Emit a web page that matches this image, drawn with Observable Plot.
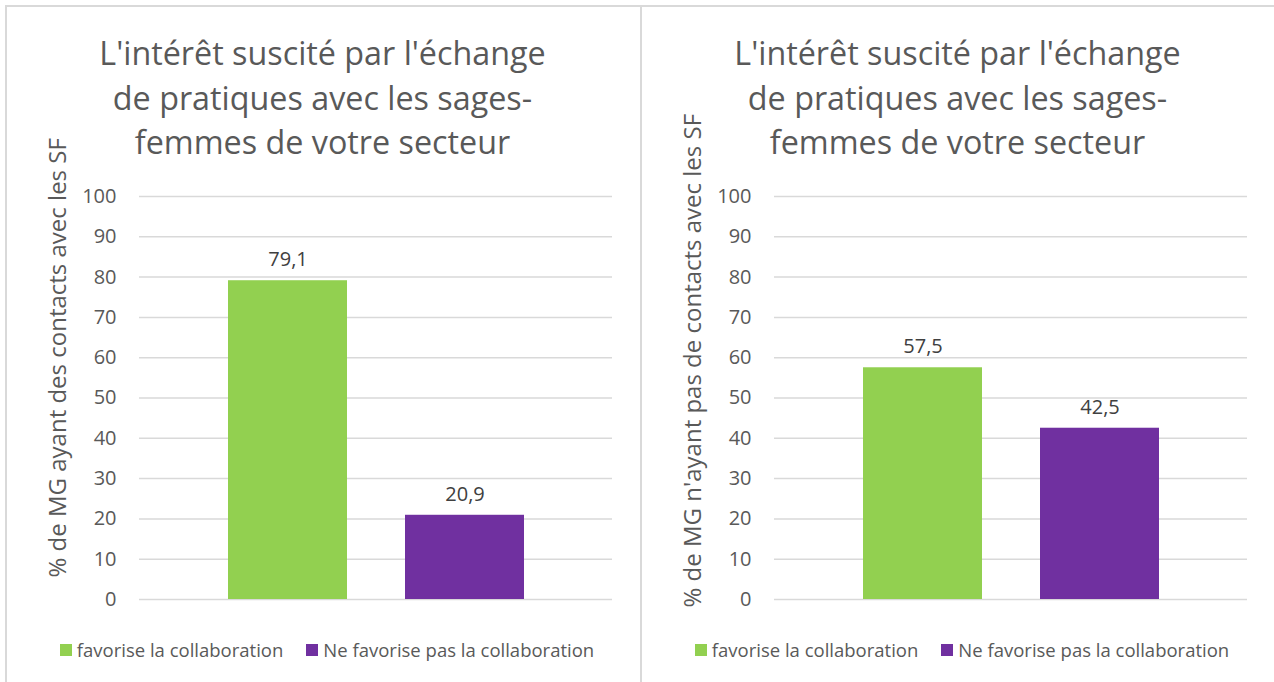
<!DOCTYPE html>
<html><head><meta charset="utf-8">
<script src="https://cdn.jsdelivr.net/npm/d3@7"></script>
<script src="https://cdn.jsdelivr.net/npm/@observablehq/plot@0.6"></script>
<style>
body{margin:0;background:#fff;font-family:"Open Sans",sans-serif;width:1274px;height:682px;overflow:hidden;position:relative}
.hline{position:absolute;left:5px;top:5px;width:1269px;height:2px;background:#d9d9d9}
.vline{position:absolute;top:5px;width:2px;height:677px;background:#d9d9d9}
.panel{position:absolute;top:0;width:645px;height:682px}
.title{position:absolute;left:0;width:645px;top:30px;text-align:center;font-size:32.3px;line-height:44.5px;color:#595959;white-space:nowrap}
.chart{position:absolute;left:5px;top:166px}
.legend{position:absolute;left:0;width:654px;top:638px;display:flex;justify-content:center;gap:23px;font-size:18.5px;line-height:24px;color:#595959;white-space:nowrap}
.item{display:flex;align-items:center}
.sw{width:12px;height:12px;margin-right:5px}
</style>
</head><body>
<div class="hline"></div>
<div class="vline" style="left:5px"></div>
<div class="vline" style="left:640px"></div>
<script>
// ---- data ----
const titleLines = ["L'intérêt suscité par l'échange", "de pratiques avec les sages-", "femmes de votre secteur"];
const series = ["favorise la collaboration", "Ne favorise pas la collaboration"];
const seriesColors = ["#92d050", "#7030a0"];
const valuesAvecContacts = [79.1, 20.9];
const valuesSansContacts = [57.5, 42.5];
const yLabelAvec = "% de MG ayant des contacts avec les SF";
const yLabelSans = "% de MG n'ayant pas de contacts avec les SF";
const yTicks = [0, 10, 20, 30, 40, 50, 60, 70, 80, 90, 100];

const fmt = v => d3.format(".1f")(v).replace(".", ",");

function makePanel(left, values, yLabel, labelDy) {
  const panel = document.createElement("div");
  panel.className = "panel";
  panel.style.left = left + "px";

  const title = document.createElement("div");
  title.className = "title";
  titleLines.forEach((t, i) => {
    if (i) title.appendChild(document.createElement("br"));
    title.appendChild(document.createTextNode(t));
  });
  panel.appendChild(title);

  const data = series.map((s, i) => ({series: s, value: values[i]}));

  const chart = Plot.plot({
    width: 635,
    height: 448,
    marginTop: 30,
    marginBottom: 15,
    marginLeft: 134,
    marginRight: 28,
    style: {fontFamily: "Open Sans", fontSize: "20px", color: "#595959", background: "transparent", overflow: "visible"},
    x: {type: "band", domain: series, paddingInner: 0.328, paddingOuter: 0.5, axis: null},
    y: {domain: [0, 100], axis: null},
    color: {domain: series, range: seriesColors},
    marks: [
      Plot.ruleY(yTicks, {stroke: "#d9d9d9", strokeWidth: 1.5}),
      Plot.axisY({ticks: yTicks, tickSize: 0, tickPadding: 23, label: null, fontSize: 20, fill: "#595959"}),
      Plot.barY(data, {x: "series", y: "value", fill: "series"}),
      Plot.text(data, {x: "series", y: "value", text: d => fmt(d.value), dy: -21, lineAnchor: "middle", fill: "#404040", fontSize: 20}),
      Plot.text([yLabel], {frameAnchor: "left", text: d => d, rotate: -90, textAnchor: "start", lineAnchor: "middle", dx: -81, dy: labelDy, fontSize: 24, fill: "#595959"})
    ]
  });
  const wrap = document.createElement("div");
  wrap.className = "chart";
  wrap.appendChild(chart);
  panel.appendChild(wrap);

  const legend = document.createElement("div");
  legend.className = "legend";
  series.forEach((s, i) => {
    const it = document.createElement("div");
    it.className = "item";
    const sw = document.createElement("span");
    sw.className = "sw";
    sw.style.background = seriesColors[i];
    const tx = document.createElement("span");
    tx.textContent = s;
    it.appendChild(sw);
    it.appendChild(tx);
    legend.appendChild(it);
  });
  panel.appendChild(legend);
  document.body.appendChild(panel);
}

makePanel(0, valuesAvecContacts, yLabelAvec, 179.5);
makePanel(635, valuesSansContacts, yLabelSans, 209.5);
</script>
</body></html>
